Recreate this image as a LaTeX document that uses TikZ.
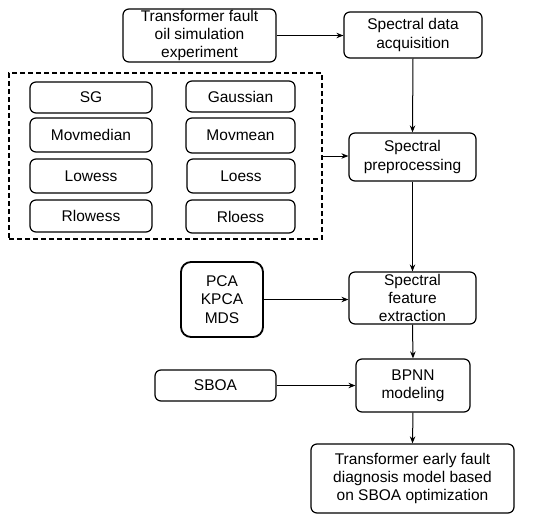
\documentclass[tikz,border=0pt]{standalone}
\usepackage{fontspec}
\setmainfont{Liberation Sans}
\usetikzlibrary{arrows.meta}
\begin{document}
\begin{tikzpicture}[x=1pt,y=-1pt,
  box/.style={draw, line width=1.2pt, rounded corners=6pt, inner sep=0pt, align=center,
    font=\fontsize{15.5}{18.3}\selectfont},
  arr/.style={line width=1pt, -{Stealth[length=7pt,width=5.5pt]}}]
\useasboundingbox (0,0) rectangle (550,520);
\node[box, minimum width=153pt, minimum height=53pt] (exp) at (199.5,35.5) {Transformer fault\\oil simulation\\experiment};
\node[box, minimum width=138pt, minimum height=46pt] (acq) at (413,35) {Spectral data\\acquisition};
\node[draw, dash pattern=on 5pt off 3pt, line width=1.2pt, minimum width=313pt, minimum height=166pt, inner sep=0pt] (dash) at (165.5,156) {};
\node[box, minimum width=122pt, minimum height=31pt] (sg) at (91,97.5) {SG};
\node[box, minimum width=109pt, minimum height=31pt] (gauss) at (240.5,96.5) {Gaussian};
\node[box, minimum width=122pt, minimum height=34pt] (movmed) at (91,135) {Movmedian};
\node[box, minimum width=109pt, minimum height=35pt] (movmean) at (240.5,135.5) {Movmean};
\node[box, minimum width=122pt, minimum height=34pt] (lowess) at (91,176) {Lowess};
\node[box, minimum width=108pt, minimum height=34pt] (loess) at (241,176) {Loess};
\node[box, minimum width=122pt, minimum height=32pt] (rlowess) at (91,216) {Rlowess};
\node[box, minimum width=109pt, minimum height=33pt] (rloess) at (240.5,216.5) {Rloess};
\node[box, minimum width=127pt, minimum height=48pt] (prep) at (412.5,157) {Spectral\\preprocessing};
\node[box, minimum width=127pt, minimum height=52pt] (feat) at (412.5,298) {Spectral\\feature\\extraction};
\node[box, line width=1.8pt, rounded corners=10pt, minimum width=82pt, minimum height=75pt] (pca) at (222,299.5) {PCA\\KPCA\\MDS};
\node[box, minimum width=114pt, minimum height=53pt] (bpnn) at (413,385.5) {BPNN\\modeling};
\node[box, minimum width=121pt, minimum height=31pt] (sboa) at (215.5,385.5) {SBOA};
\node[box, minimum width=203pt, minimum height=69pt] (final) at (412.5,478.5) {Transformer early fault\\diagnosis model based\\on SBOA optimization};
\draw[arr] (exp.east) -- (exp.east -| acq.west);
\draw[arr] (acq.south) -- (prep.north);
\draw[arr] (dash.east) -- (dash.east -| prep.west);
\draw[arr] (prep.south) -- (feat.north);
\draw[arr] (pca.east) -- (pca.east -| feat.west);
\draw[arr] (feat.south) -- (bpnn.north);
\draw[arr] (sboa.east) -- (bpnn.west);
\draw[arr] (bpnn.south) -- (final.north);
\end{tikzpicture}
\end{document}
